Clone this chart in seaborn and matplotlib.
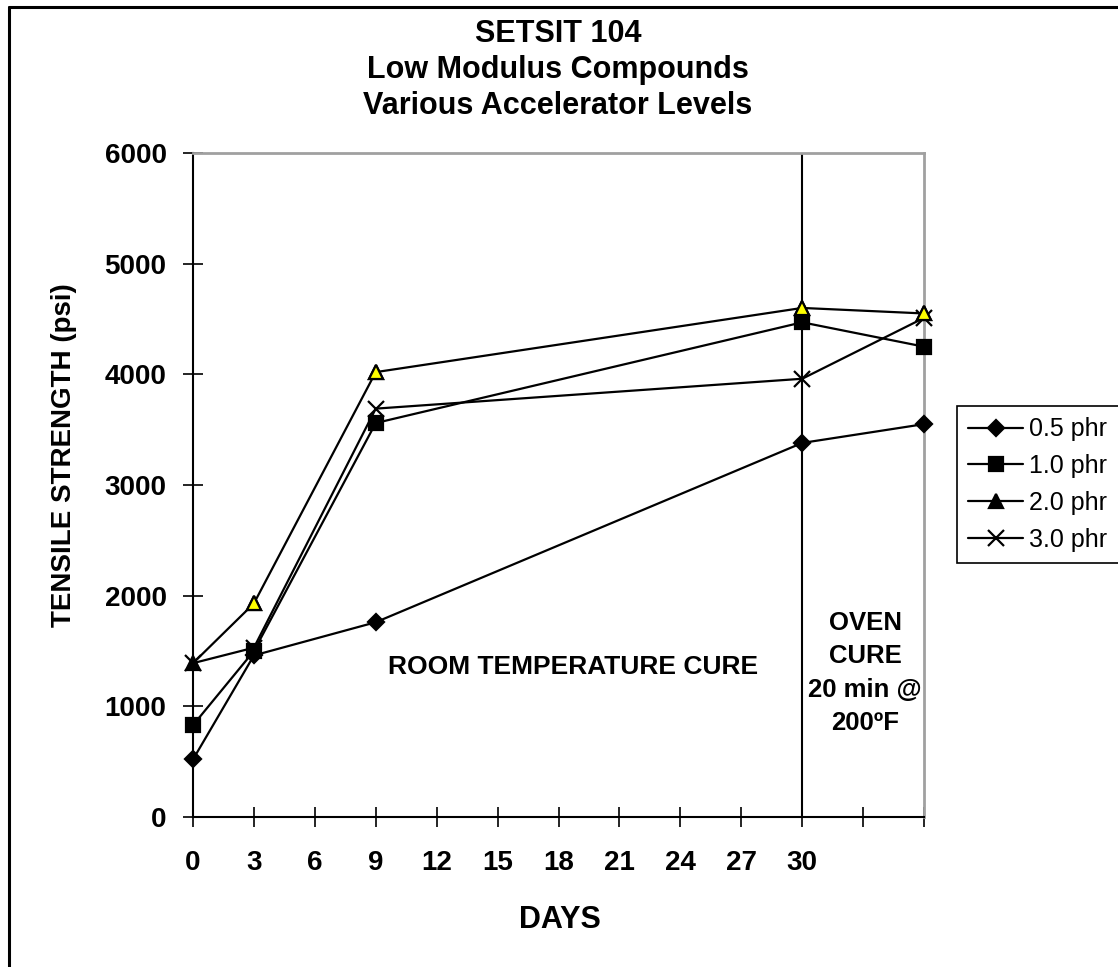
import matplotlib
matplotlib.use("Agg")
import matplotlib.pyplot as plt
import seaborn as sns
import pandas as pd
from matplotlib.lines import Line2D

# ---- data ----
days = [0, 3, 9, 30, 36]          # 36 = oven cure position
series_names = ["0.5 phr", "1.0 phr", "2.0 phr", "3.0 phr"]
phr05 = [520, 1460, 1760, 3380, 3550]
phr10 = [830, 1500, 3560, 4470, 4250]
phr20 = [1390, 1930, 4020, 4600, 4550]
phr30 = [1390, 1530, 3690, 3960, 4510]
xtick_vals = [0, 3, 6, 9, 12, 15, 18, 21, 24, 27, 30, 33, 36]
xtick_labels = ["0", "3", "6", "9", "12", "15", "18", "21", "24", "27", "30", "", ""]
ytick_vals = [0, 1000, 2000, 3000, 4000, 5000, 6000]

rows = []
for name, vals in zip(series_names, [phr05, phr10, phr20, phr30]):
    for d, v in zip(days, vals):
        rows.append({"days": d, "tensile": v, "series": name})
df = pd.DataFrame(rows)

sns.set_theme(style="white")
plt.rcParams['font.family'] = ['Liberation Sans', 'DejaVu Sans']
plt.rcParams.update({"text.color": "black", "axes.labelcolor": "black",
                     "xtick.color": "black", "ytick.color": "black"})

fig = plt.figure(figsize=(11.18, 9.67), dpi=100)
ax = fig.add_axes([193/1118, 1-817/967, (924-193)/1118, (817-153)/967])

markers = {"0.5 phr": "D", "1.0 phr": "s", "2.0 phr": "^", "3.0 phr": "x"}
msizes = {"0.5 phr": 8.5, "1.0 phr": 10, "2.0 phr": 10, "3.0 phr": 11}
for n in series_names:
    sub = df[df.series == n]
    sns.lineplot(data=sub, x="days", y="tensile", color="black", marker=markers[n],
                 markersize=msizes[n], markeredgewidth=1.6, markeredgecolor="black",
                 markerfacecolor="black", linewidth=1.6, ax=ax, zorder=3, legend=False,
                 clip_on=False)

# yellow-filled triangles for 2.0 phr (except first point)
sub = df[(df.series == "2.0 phr") & (df.days > 0)]
ax.plot(sub.days, sub.tensile, linestyle="none", marker="^", markersize=10,
        markerfacecolor="#ffff00", markeredgecolor="black", markeredgewidth=1.6,
        zorder=4, clip_on=False)

ax.set_xlim(0, 36)
ax.set_ylim(0, 6000)
ax.set_xticks(xtick_vals)
ax.set_xticklabels(xtick_labels)
ax.set_yticks(ytick_vals)
ax.tick_params(axis="both", direction="inout", length=14, width=1.2, color="black",
               labelsize=20, labelcolor="black")
ax.tick_params(axis="x", pad=17, bottom=True)
ax.tick_params(axis="y", pad=12, left=True)
for lab in ax.get_xticklabels() + ax.get_yticklabels():
    lab.set_fontweight("bold")

for s in ["left", "bottom"]:
    ax.spines[s].set_color("black")
    ax.spines[s].set_linewidth(1.5)
for s in ["top", "right"]:
    ax.spines[s].set_color("#a0a0a0")
    ax.spines[s].set_linewidth(2)

ax.axvline(30, color="black", linewidth=1.5, zorder=2)

ax.set_xlabel("DAYS", fontsize=22, fontweight="bold")
ax.xaxis.label.set_verticalalignment("center")
ax.xaxis.set_label_coords((560-193)/731, (817-920)/664)
ax.set_ylabel("TENSILE STRENGTH (psi)", fontsize=20, fontweight="bold")
ax.yaxis.label.set_verticalalignment("center")
ax.yaxis.set_label_coords((64-193)/731, (817-455)/664)

ax.text(18.74, 1355, "ROOM TEMPERATURE CURE", ha="center", va="center",
        fontsize=19, fontweight="bold")
ax.text(33.1, 1300, "OVEN\nCURE\n20 min @\n200ºF", ha="center", va="center",
        fontsize=18.5, fontweight="bold", linespacing=1.5)

fig.text(558/1118, 1-70/967, "SETSIT 104\nLow Modulus Compounds\nVarious Accelerator Levels",
         ha="center", va="center", fontsize=22, fontweight="bold", linespacing=1.25)

# legend
handles = [Line2D([0], [0], color="black", linewidth=1.6, marker=markers[n], markersize=msizes[n],
                  markerfacecolor="black", markeredgecolor="black", markeredgewidth=1.6)
           for n in series_names]
leg = fig.legend(handles, series_names, loc="upper left",
                 bbox_to_anchor=(957/1118, 1-406/967), fontsize=18,
                 frameon=True, fancybox=False, edgecolor="black", framealpha=1,
                 handlelength=2.2, handletextpad=0.24, borderpad=0.45, labelspacing=0.51,
                 borderaxespad=0)
leg.get_frame().set_linewidth(1.2)

# figure border (left and top only)
fig.add_artist(Line2D([8.5/1118, 8.5/1118], [0, 1-6.5/967], transform=fig.transFigure,
                      color="black", linewidth=2.2))
fig.add_artist(Line2D([8.5/1118, 1], [1-6.5/967, 1-6.5/967], transform=fig.transFigure,
                      color="black", linewidth=2.2))

fig.savefig("out.png", dpi=100)
